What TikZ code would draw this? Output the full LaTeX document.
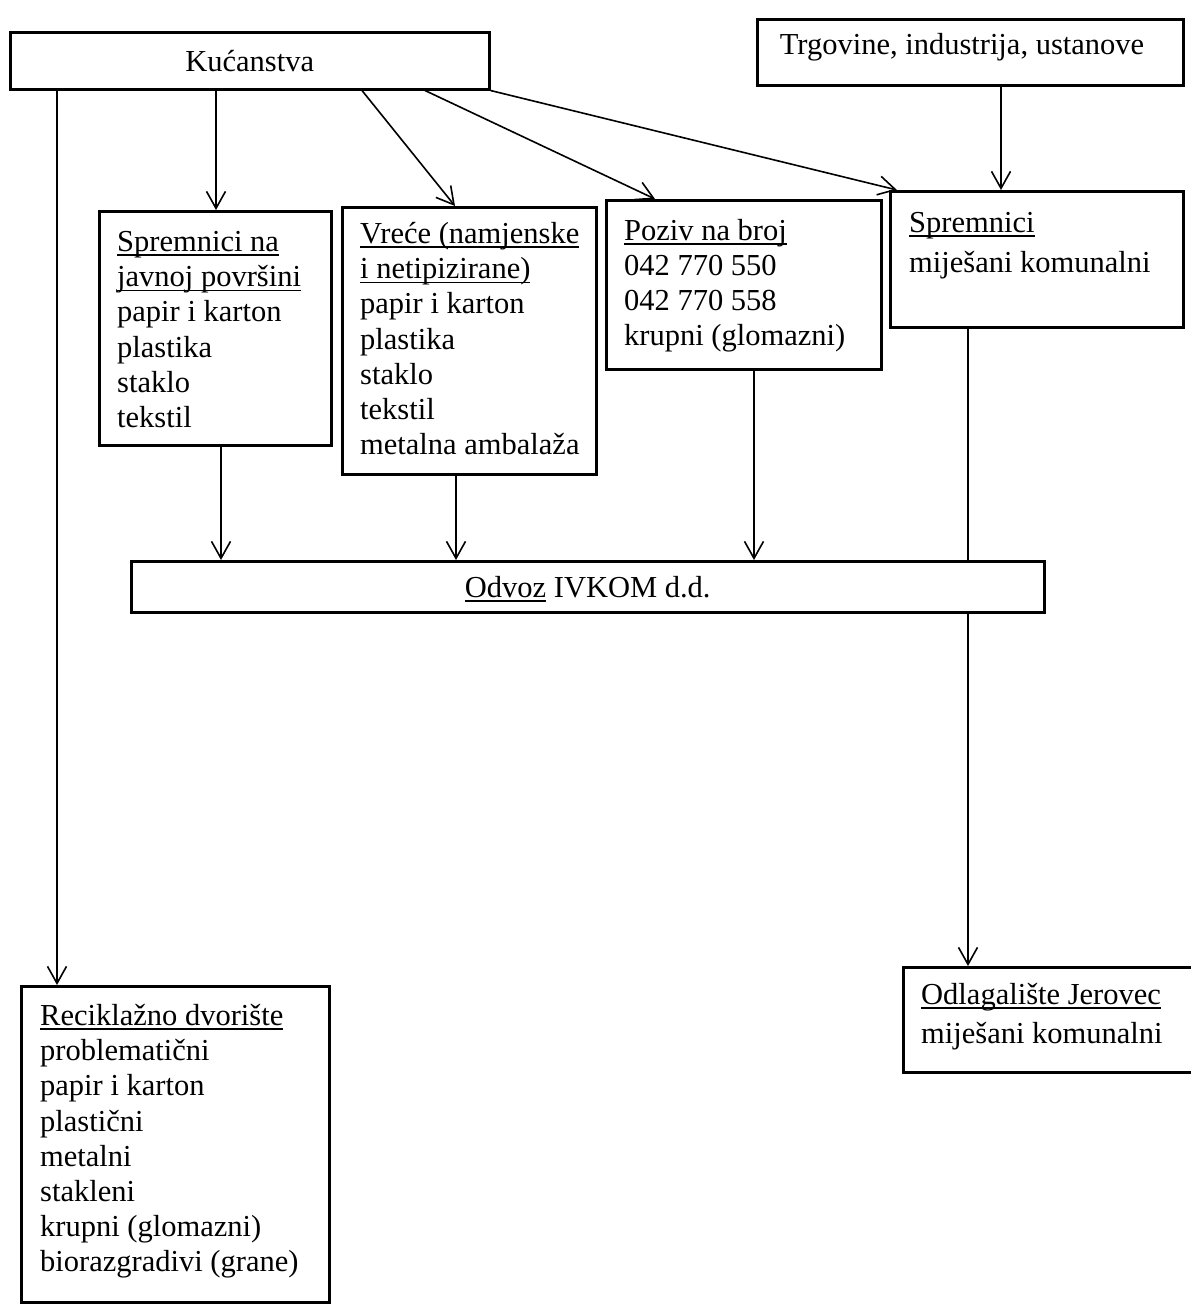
\documentclass[tikz,border=0pt]{standalone}
\usepackage{fontspec}
\setmainfont{Liberation Serif}
\usetikzlibrary{arrows.meta}
\newlength\ulw
\newcommand\ulx[1]{\settowidth{\ulw}{#1}\rlap{\smash{\rule[-4.5pt]{\ulw}{1.5pt}}}#1}
\begin{document}
\begin{tikzpicture}[x=1pt,y=-1pt,
  font=\fontsize{30.5}{35.2}\selectfont,
  box/.style={draw, line width=2.5pt, inner sep=0pt, anchor=north west},
  txt/.style={align=left, inner sep=0pt, anchor=north west},
  link/.style={line width=1.6pt},
  arr/.style={line width=1.6pt, -{Straight Barb[length=17pt,width=19pt]}}]
\fill[white] (0,0) rectangle (1191,1307);
\useasboundingbox (0,0) rectangle (1191,1307);

\node[box, minimum width=479, minimum height=57] (kuc) at (9,31) {Kućanstva};
\node[box, minimum width=426, minimum height=66] (trg) at (756,18) {};
\node[inner sep=0pt] (trgt) at (962,47) {Trgovine, industrija, ustanove};

\node[box, minimum width=232, minimum height=234] (sj) at (98,210) {};
\node[txt] (sjt) at (117,231) {\ulx{Spremnici na}\\\ulx{javnoj površini}\\papir i karton\\plastika\\staklo\\tekstil};

\node[box, minimum width=254, minimum height=267] (vre) at (341,206) {};
\node[txt] (vret) at (360,222) {\ulx{Vreće (namjenske}\\\ulx{i netipizirane)}\\papir i karton\\plastika\\staklo\\tekstil\\metalna ambalaža};

\node[box, minimum width=275, minimum height=169] (poz) at (605,199) {};
\node[txt] (pozt) at (624,219) {\ulx{Poziv na broj}\\042 770 550\\042 770 558\\krupni (glomazni)};

\node[box, minimum width=293, minimum height=136] (sp2) at (889,190) {};
\node[txt] (sp2t) at (909,212) {\ulx{Spremnici}\\[4.5pt]miješani komunalni};

\node[box, minimum width=913, minimum height=51] (odv) at (130,560) {\ulx{Odvoz} IVKOM d.d.};

\node[box, minimum width=308, minimum height=316] (rec) at (20,985) {};
\node[txt] (rect) at (40,1004) {\ulx{Reciklažno dvorište}\\problematični\\papir i karton\\plastični\\metalni\\stakleni\\krupni (glomazni)\\biorazgradivi (grane)};

\node[box, minimum width=292, minimum height=105] (odl) at (902,966) {};
\node[txt] (odlt) at (921,983) {\ulx{Odlagalište Jerovec}\\[4pt]miješani komunalni};

\draw[arr] (kuc.south -| 57,0) -- (rec.north -| 57,0);
\draw[arr] (kuc.south -| 216,0) -- (sj.north -| 216,0);
\draw[arr] (kuc.south -| 362,0) -- (vre.north -| 455,0);
\draw[arr] (kuc.south -| 425,0) -- (poz.north -| 655,0);
\draw[arr] (kuc.south east) -- ([xshift=8pt]sp2.north west);
\draw[arr] (trg.south -| 1001,0) -- (sp2.north -| 1001,0);
\draw[arr] (sj.south -| 221,0) -- (odv.north -| 221,0);
\draw[arr] (vre.south -| 456,0) -- (odv.north -| 456,0);
\draw[arr] (poz.south -| 754,0) -- (odv.north -| 754,0);
\draw[link] (sp2.south -| 968,0) -- (odv.north -| 968,0);
\draw[arr] (odv.south -| 968,0) -- (odl.north -| 968,0);
\end{tikzpicture}
\end{document}
